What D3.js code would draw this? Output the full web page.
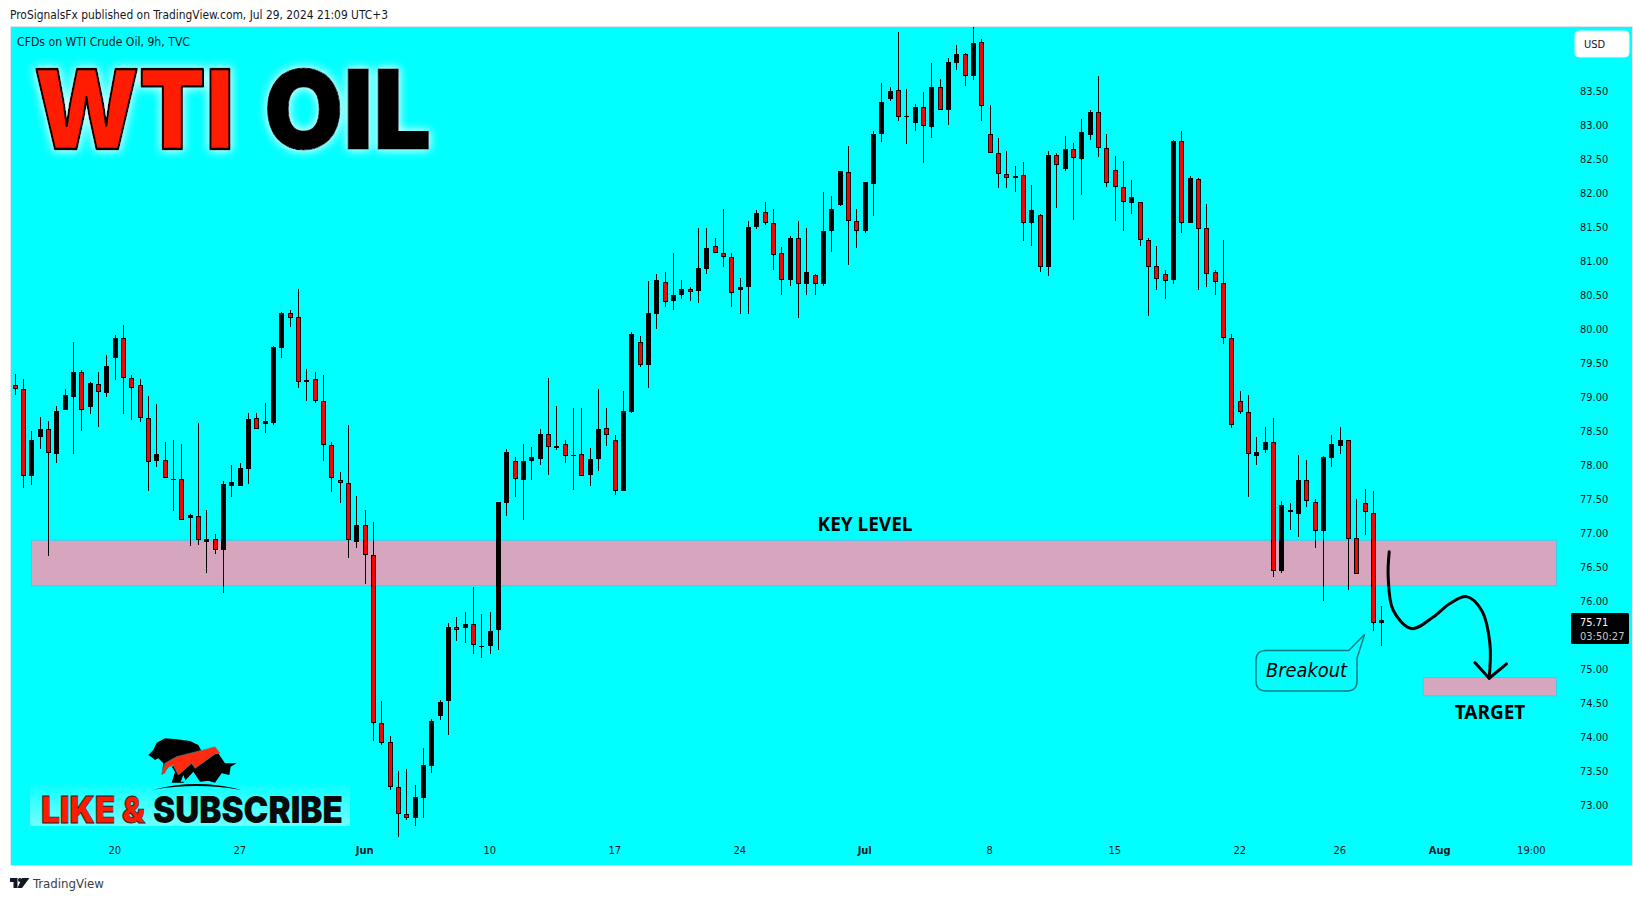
<!DOCTYPE html>
<html>
<head>
<meta charset="utf-8">
<script src="https://cdn.jsdelivr.net/npm/d3@7"></script>
<style>
html,body{margin:0;padding:0;background:#fff;overflow:hidden}
svg{display:block}
text{font-family:"DejaVu Sans Condensed","Liberation Sans",sans-serif;fill:#131722}
</style>
</head>
<body>
<svg id="c" width="1643" height="901"></svg>
<script>
const opens=[79.17,79.12,77.84,78.41,78.52,78.16,78.81,79.00,79.36,78.85,79.18,79.06,79.57,79.87,79.27,79.17,78.68,78.05,78.07,77.78,77.79,77.22,77.24,76.87,76.90,76.75,77.69,77.68,77.94,78.68,78.60,78.62,79.72,80.23,80.17,79.21,79.26,78.93,78.29,77.77,77.73,76.87,77.11,76.67,74.20,73.92,73.26,72.87,72.80,73.10,73.57,74.30,74.52,75.62,75.60,75.65,75.33,75.34,75.57,77.43,78.06,77.77,78.05,78.09,78.45,78.27,78.31,78.13,78.15,77.85,78.09,78.54,78.37,77.62,78.78,79.81,79.47,80.21,80.68,80.40,80.49,80.58,80.56,80.88,81.21,81.11,81.06,80.57,80.62,81.50,81.71,81.55,81.11,80.72,81.34,80.65,80.79,80.66,81.43,81.82,82.31,81.58,81.43,82.13,82.87,83.38,83.51,83.12,83.03,83.26,82.97,83.55,83.22,83.90,84.04,83.71,84.21,82.86,82.58,82.27,82.21,82.26,81.56,81.67,80.91,82.56,82.35,82.64,82.49,82.85,83.18,82.65,82.34,82.08,81.85,81.87,81.31,80.92,80.80,80.71,82.76,81.56,82.20,81.48,80.83,80.67,79.86,78.93,78.78,78.13,78.21,78.34,76.44,77.34,77.28,77.77,77.45,77.02,78.10,78.28,78.36,76.92,77.43,77.29,75.67];
const highs=[79.34,79.26,78.49,78.70,78.64,78.86,79.12,79.80,79.39,79.21,79.36,79.61,79.90,80.06,79.32,79.26,79.01,78.89,78.33,78.36,78.30,77.27,78.62,77.33,76.98,77.76,77.99,78.02,78.76,78.76,78.90,79.74,80.24,80.27,80.58,79.40,79.36,79.32,78.33,77.89,78.58,77.54,77.33,77.15,74.52,74.01,73.49,73.52,73.29,73.83,74.26,74.54,75.67,75.76,75.84,76.20,75.81,75.84,77.45,78.23,78.12,78.31,78.26,78.52,79.27,78.86,78.36,78.83,78.84,78.24,79.11,78.83,78.43,79.08,79.95,79.89,80.70,80.80,80.84,81.12,80.71,80.62,81.48,81.48,81.34,81.76,81.12,80.74,81.58,81.74,81.86,81.76,81.20,81.36,81.59,81.48,80.80,82.01,81.95,82.32,82.68,81.76,82.15,82.90,83.61,83.56,84.36,83.52,83.31,83.48,83.90,83.67,83.98,84.17,84.06,84.43,84.26,83.29,82.81,82.62,82.39,82.45,82.11,81.68,82.62,82.59,82.83,82.73,83.09,83.21,83.71,82.87,82.54,82.46,82.18,81.87,81.34,81.21,80.86,82.77,82.90,82.24,82.21,81.84,80.86,81.30,79.92,79.09,79.03,78.40,78.55,78.68,77.46,77.43,78.14,78.07,77.49,78.13,78.43,78.55,78.37,77.49,77.64,77.61,75.92];
const lows=[79.03,77.65,77.70,78.23,76.66,78.02,78.81,78.16,78.49,78.75,78.56,78.99,79.24,78.74,78.65,78.63,77.62,77.97,77.80,77.32,77.18,76.80,76.82,76.40,76.68,76.12,77.52,77.68,77.71,78.52,78.47,78.59,79.57,80.02,79.13,78.94,78.90,78.06,77.60,77.43,76.63,76.77,76.24,73.93,73.88,73.21,72.52,72.77,72.68,72.81,73.47,74.25,74.02,75.41,75.38,75.21,75.16,75.22,75.27,77.24,77.52,77.19,77.77,77.99,77.85,78.21,78.02,77.63,77.83,77.69,77.90,78.27,77.55,77.62,78.76,79.44,79.13,80.00,80.32,80.27,80.44,80.40,80.38,80.81,81.11,80.90,80.32,80.21,80.22,81.47,81.52,80.87,80.50,80.63,80.16,80.50,80.49,80.63,81.13,81.81,80.94,81.19,81.40,81.66,82.74,83.35,83.05,82.71,82.90,82.43,82.80,83.21,83.00,83.80,83.57,83.66,83.05,82.59,82.07,82.07,82.01,81.29,81.22,80.84,80.78,81.77,82.32,81.60,81.97,82.77,82.53,82.08,81.59,81.44,81.68,81.21,80.19,80.57,80.44,80.66,81.41,81.56,80.57,80.62,80.49,79.77,78.54,78.74,77.53,78.00,78.17,76.35,76.40,77.04,76.94,77.38,76.78,76.00,77.96,78.16,76.15,76.39,76.97,75.55,75.33];
const closes=[79.12,77.84,78.36,78.52,78.17,78.79,79.02,79.36,78.81,79.20,79.07,79.45,79.87,79.27,79.13,78.68,78.04,78.15,77.80,77.79,77.18,77.26,76.89,76.90,76.74,77.72,77.74,77.95,78.67,78.52,78.64,79.73,80.23,80.15,79.21,79.24,78.93,78.29,77.80,77.73,76.89,77.11,76.67,74.20,73.91,73.26,72.87,72.80,73.12,73.58,74.23,74.51,75.62,75.57,75.65,75.35,75.34,75.56,77.45,78.18,77.79,78.05,78.11,78.45,78.26,78.24,78.13,78.14,77.83,78.08,78.52,78.43,77.62,78.79,79.92,79.46,80.23,80.71,80.39,80.49,80.59,80.54,80.89,81.18,81.11,81.06,80.52,80.62,81.49,81.70,81.55,81.09,80.71,81.34,80.65,80.84,80.66,81.43,81.76,82.32,81.59,81.43,82.15,82.86,83.34,83.49,83.11,83.13,83.26,82.98,83.56,83.21,83.92,84.04,83.71,84.20,83.28,82.59,82.27,82.21,82.24,81.56,81.74,80.90,82.56,82.40,82.64,82.51,82.89,83.18,82.65,82.14,82.09,81.86,81.93,81.31,80.90,80.73,80.70,82.76,81.56,82.21,81.46,80.80,80.68,79.87,78.58,78.78,78.15,78.18,78.34,76.43,77.40,77.30,77.77,77.46,77.02,78.12,78.30,78.37,76.90,76.39,77.30,75.67,75.71];

const priceTicks=[73,73.5,74,74.5,75,76,76.5,77,77.5,78,78.5,79,79.5,80,80.5,81,81.5,82,82.5,83,83.5];
const timeTickIdx=[12,27,42,57,72,87,102,117,132,147,159,171,182];
const timeTickLabels=["20","27","Jun","10","17","24","Jul","8","15","22","26","Aug","19:00"];
const boldLabels=["Jun","Jul","Aug"];
const keyLevelBand=[76.89,76.22];
const keyLevelIdx=[1.96,184.96];
const targetBand=[74.87,74.60];
const targetIdx=[168.96,184.96];
const pathIdx=[164.88,164.76,165.36,167.56,170.16,172.16,174.16,175.96,176.96,176.88];
const pathPrice=[76.72,76.35,75.86,75.59,75.76,75.96,76.06,75.86,75.37,74.86];
const arrowIdx=[175.16,176.88,178.96];
const arrowPrice=[75.09,74.86,75.07];
const lastPrice=75.71;

const svg=d3.select("#c");
const x=d3.scaleLinear().domain([0,164]).range([15.2,1381.87]);
const y=d3.scaleLinear().domain([83.5,73]).range([90.7,804.7]);

// pane
svg.append("rect").attr("x",10.5).attr("y",26.5).attr("width",1622).attr("height",839).attr("fill","#00ffff").attr("stroke","#e0e3eb");
const defs=svg.append("defs");
defs.append("clipPath").attr("id","pane").append("rect").attr("x",11).attr("y",27).attr("width",1621).attr("height",838);
const glow=defs.append("filter").attr("id","glow").attr("x","-15%").attr("y","-30%").attr("width","130%").attr("height","160%");
glow.append("feMorphology").attr("in","SourceAlpha").attr("operator","dilate").attr("radius",1).attr("result","d");
glow.append("feGaussianBlur").attr("in","d").attr("stdDeviation",5).attr("result","b");
glow.append("feFlood").attr("flood-color","#ffffff").attr("flood-opacity",0.9);
glow.append("feComposite").attr("in2","b").attr("operator","in").attr("result","w");
const mg=glow.append("feMerge");mg.append("feMergeNode").attr("in","w");mg.append("feMergeNode").attr("in","SourceGraphic");
const lg=defs.append("linearGradient").attr("id","sub").attr("x1",0).attr("x2",0).attr("y1",0).attr("y2",1);
lg.append("stop").attr("offset",0).attr("stop-color","#fff").attr("stop-opacity",0);
lg.append("stop").attr("offset",1).attr("stop-color","#ccffff").attr("stop-opacity",0.55);

const plot=svg.append("g").attr("clip-path","url(#pane)");

// zones
function band(idx,pr){
  plot.append("rect").attr("x",x(idx[0])).attr("width",x(idx[1])-x(idx[0]))
    .attr("y",y(pr[0])).attr("height",y(pr[1])-y(pr[0]))
    .attr("fill","#d5a6bd").attr("stroke","#2fd4f0").attr("stroke-width",1);
}
band(keyLevelIdx,keyLevelBand);
band(targetIdx,targetBand);

// candles
const idx=d3.range(opens.length);
const col=i=>Math.floor(x(i));
plot.append("g").selectAll("rect").data(idx).join("rect")
  .attr("x",col).attr("width",1)
  .attr("y",i=>Math.round(y(highs[i])))
  .attr("height",i=>Math.max(1,Math.round(y(lows[i]))-Math.round(y(highs[i]))))
  .attr("fill","#000");
plot.append("g").selectAll("rect").data(idx).join("rect")
  .attr("x",i=>col(i)-2+(closes[i]<opens[i]?0.5:0))
  .attr("width",i=>closes[i]<opens[i]?4:5)
  .attr("y",i=>{const t=Math.round(y(Math.max(opens[i],closes[i])));return closes[i]<opens[i]?t+0.5:t;})
  .attr("height",i=>{const t=Math.round(y(Math.max(opens[i],closes[i]))),b=Math.round(y(Math.min(opens[i],closes[i])));
     return closes[i]<opens[i]?Math.max(1,b-t-1):Math.max(1,b-t);})
  .attr("fill",i=>closes[i]<opens[i]?"#ff0000":"#000")
  .attr("stroke",i=>closes[i]<opens[i]?"#000":"none")
  .attr("stroke-width",1);

// forecast curve + arrow
const curvePts=pathIdx.map((d,i)=>[x(d),y(pathPrice[i])]);
const linePath=d3.line().curve(d3.curveCatmullRom.alpha(0.5));
plot.append("path").attr("d",linePath(curvePts)).attr("fill","none").attr("stroke","#000").attr("stroke-width",3).attr("stroke-linecap","round");
plot.append("path").attr("d",d3.line()(arrowIdx.map((d,i)=>[x(d),y(arrowPrice[i])]))).attr("fill","none").attr("stroke","#000").attr("stroke-width",3).attr("stroke-linecap","round").attr("stroke-linejoin","round");

// axes
const axisFont='"DejaVu Sans Condensed","Liberation Sans",sans-serif';
const yAxis=d3.axisRight(y).tickValues(priceTicks).tickFormat(d3.format(".2f")).tickSize(0).tickPadding(0);
const ya=svg.append("g").attr("transform","translate(1580,0)").call(yAxis);
ya.select(".domain").remove();
ya.selectAll("text").attr("font-size",11).style("font-family",axisFont).attr("fill","#131722");
const xAxis=d3.axisBottom(x).tickValues(timeTickIdx).tickFormat((d,i)=>timeTickLabels[i]).tickSize(0).tickPadding(0);
const xa=svg.append("g").attr("transform","translate(-1,846)").call(xAxis);
xa.select(".domain").remove();
xa.selectAll("text").attr("font-size",11).attr("y",0).attr("dy","0.71em").style("font-family",axisFont).attr("fill","#131722")
  .attr("font-weight",function(){return boldLabels.includes(this.textContent)?700:400;});

// last price tag
svg.append("rect").attr("x",1571).attr("y",613).attr("width",58).attr("height",31).attr("rx",1.5).attr("fill","#000");
svg.append("text").attr("x",1580).attr("y",626).attr("font-size",11).style("fill","#fff").text(d3.format(".2f")(lastPrice));
svg.append("text").attr("x",1580).attr("y",640).attr("font-size",11).style("fill","#c8c8c8").text("03:50:27");

// USD button
svg.append("rect").attr("x",1575).attr("y",31).attr("width",54).attr("height",26).attr("rx",4).attr("fill","#fff").attr("stroke","#e8f6fa");
svg.append("text").attr("x",1584).attr("y",48).attr("font-size",11).text("USD");

// header / legend
svg.append("text").attr("x",10).attr("y",19).attr("font-size",11.5).attr("textLength",378).attr("lengthAdjust","spacingAndGlyphs").text("ProSignalsFx published on TradingView.com, Jul 29, 2024 21:09 UTC+3");
svg.append("text").attr("x",17).attr("y",46).attr("font-size",11.5).attr("textLength",173).attr("lengthAdjust","spacingAndGlyphs").text("CFDs on WTI Crude Oil, 9h, TVC");

// WTI OIL title
const ttl=svg.append("g").attr("filter","url(#glow)");
ttl.append("text").attr("x",34).attr("y",149).attr("font-size",110).attr("font-weight",900).attr("textLength",200).attr("lengthAdjust","spacingAndGlyphs")
  .style("font-family","Inter,sans-serif").style("fill","#ff1a00").attr("stroke","#000").attr("stroke-width",2.4).attr("stroke-linejoin","round").text("WTI");
ttl.append("text").attr("x",264).attr("y",149).attr("font-size",110).attr("font-weight",900).attr("textLength",167).attr("lengthAdjust","spacingAndGlyphs")
  .style("font-family","Inter,sans-serif").style("fill","#000").attr("stroke","#000").attr("stroke-width",1).text("OIL");

// labels
svg.append("text").attr("x",865).attr("y",531).attr("text-anchor","middle").attr("font-size",19).attr("font-weight",700).style("font-family",'"Noto Sans",sans-serif').style("fill","#000").text("KEY LEVEL");
svg.append("text").attr("x",1490).attr("y",719).attr("text-anchor","middle").attr("font-size",19).attr("font-weight",700).style("font-family",'"Noto Sans",sans-serif').style("fill","#000").text("TARGET");

// Breakout callout
svg.append("path").attr("d","M1266,650.5 H1348.7 L1364.7,634.3 L1357,658 V681 Q1357,691 1347,691 H1266 Q1256,691 1256,681 V660.5 Q1256,650.5 1266,650.5 Z")
  .attr("fill","#00ffff").attr("stroke","#0b7d80").attr("stroke-width",1.5);
svg.append("text").attr("x",1266).attr("y",677).attr("font-size",20).attr("font-style","italic").attr("textLength",81).attr("lengthAdjust","spacingAndGlyphs").style("font-family",'"DejaVu Sans",sans-serif').style("fill","#000").text("Breakout");

// Like & subscribe
svg.append("rect").attr("x",30).attr("y",782).attr("width",320).attr("height",44).attr("fill","url(#sub)");
const sub=svg.append("g");
sub.append("text").attr("x",41).attr("y",823).attr("font-size",37).attr("font-weight",900).attr("textLength",104).attr("lengthAdjust","spacingAndGlyphs").style("font-family","Inter,sans-serif").style("fill","#ff1a00").attr("stroke","#222").attr("stroke-width",0.8).text("LIKE &");
sub.append("text").attr("x",153).attr("y",823).attr("font-size",37).attr("font-weight",900).attr("textLength",190).attr("lengthAdjust","spacingAndGlyphs").style("font-family","Inter,sans-serif").style("fill","#0a0a0a").text("SUBSCRIBE");

// bear/bull logo
const logo=svg.append("g").attr("transform","translate(140,730) scale(0.3333)");
logo.append("path").attr("fill","#000").attr("d","M25,75 L40,60 L50,38 L75,25 L110,28 L150,33 L175,45 L188,70 L120,90 L90,105 L75,125 L65,135 L70,100 L55,85 L45,90 L35,82 Z");
logo.append("path").attr("fill","#000").attr("d","M95,110 L170,80 L235,70 L255,100 L290,100 L272,110 L268,135 L245,130 L225,158 L205,152 L180,155 L160,125 L130,158 L95,158 L105,125 Z");
logo.append("path").attr("fill","#00ffff").attr("d","M122,155 L130,135 L138,155 Z M150,152 L155,135 L165,152 Z");
logo.append("path").attr("fill","#000").attr("d","M40,179 Q170,145 305,180 Q170,157 40,179 Z");
logo.append("path").attr("fill","#ff2a10").attr("stroke","#4b8f8f").attr("stroke-width",2).attr("d","M65,130 L75,100 L110,80 L170,65 L225,50 L240,70 L225,72 L165,115 L155,100 L115,135 L100,105 L80,115 L75,130 Z");

// footer logo
const foot=svg.append("g").attr("transform","translate(10,878)").attr("fill","#131722");
foot.append("path").attr("d","M0,0 H7.5 V10 H3.5 V4 H0 Z");
foot.append("circle").attr("cx",10).attr("cy",2).attr("r",2);
foot.append("path").attr("d","M12,10 H7.5 L12,0 H19.5 Z");
svg.append("text").attr("x",33).attr("y",888).attr("font-size",12).attr("textLength",71).attr("lengthAdjust","spacingAndGlyphs").style("fill","#3a3e48").text("TradingView");
</script>
</body>
</html>
